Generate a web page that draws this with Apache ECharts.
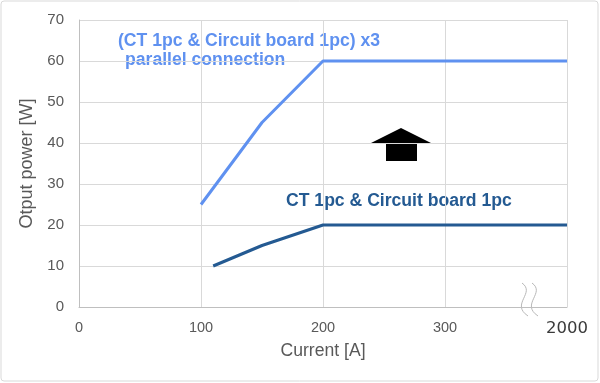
<!DOCTYPE html>
<html><head><meta charset="utf-8">
<script src="https://cdn.jsdelivr.net/npm/echarts@6/dist/echarts.min.js"></script>
<style>html,body{margin:0;padding:0;background:#fff}#c{width:600px;height:383px}</style>
</head><body><div id="c"></div>
<script>
const xTicks = [0, 100, 200, 300, 400];
const xTickLabels = ['0', '100', '200', '300', '2000'];
const parallelX = [100, 150, 200, 400];
const parallelY = [25, 45, 60, 60];
const singleX = [110, 150, 200, 400];
const singleY = [10, 15, 20, 20];
const parallelName = '(CT 1pc & Circuit board 1pc) x3';
const parallelName2 = 'parallel connection';
const singleName = 'CT 1pc & Circuit board 1pc';

const chart = echarts.init(document.getElementById('c'));
const font = 'Liberation Sans, Arial, sans-serif';
const lightBlue = '#5f91f0';
const darkBlue = '#245a92';
chart.setOption({
  animation: false,
  grid: {left: 79, right: 33, top: 20, bottom: 76},
  xAxis: {
    type: 'value', min: 0, max: 400, interval: 100,
    axisLine: {show: true, lineStyle: {color: '#bfbfbf'}},
    axisTick: {show: false},
    splitLine: {show: true, lineStyle: {color: '#d9d9d9'}},
    axisLabel: {color: '#595959', fontSize: 14.5, fontFamily: font, margin: 13,
      formatter: v => {
        const t = xTickLabels[xTicks.indexOf(v)];
        return v === 400 ? '{b|' + t + '}' : t;
      },
      rich: {b: {fontSize: 16.5, color: '#3a3a3a', fontFamily: 'DejaVu Sans, sans-serif'}}},
    name: 'Current [A]', nameLocation: 'middle', nameGap: 34,
    nameTextStyle: {color: '#595959', fontSize: 17.6, fontFamily: font}
  },
  yAxis: {
    type: 'value', min: 0, max: 70, interval: 10,
    axisLine: {show: true, lineStyle: {color: '#bfbfbf'}},
    axisTick: {show: false},
    splitLine: {show: true, lineStyle: {color: '#d9d9d9'}},
    axisLabel: {color: '#595959', fontSize: 15, fontFamily: font, margin: 15},
    name: 'Otput power [W]', nameLocation: 'middle', nameGap: 35,
    nameTextStyle: {color: '#595959', fontSize: 18, fontFamily: font}
  },
  series: [
    {type: 'line', data: parallelX.map((x, i) => [x, parallelY[i]]), symbol: 'none',
      lineStyle: {color: lightBlue, width: 3}},
    {type: 'line', data: singleX.map((x, i) => [x, singleY[i]]), symbol: 'none',
      lineStyle: {color: darkBlue, width: 3}}
  ],
  graphic: [
    {type: 'rect', shape: {x: 1, y: 1, width: 597, height: 380, r: 3},
      style: {fill: 'none', stroke: '#d9d9d9', lineWidth: 1}, silent: true},
    {type: 'text', x: 118, y: 41, style: {text: parallelName, fill: lightBlue,
      font: 'bold 17.6px ' + font, verticalAlign: 'middle'}},
    {type: 'text', x: 125, y: 60, style: {text: parallelName2, fill: lightBlue,
      font: 'bold 17.6px ' + font, verticalAlign: 'middle'}},
    {type: 'text', x: 286, y: 201, style: {text: singleName, fill: darkBlue,
      font: 'bold 17.6px ' + font, verticalAlign: 'middle'}},
    {type: 'polygon', shape: {points: [[401, 128], [431, 143], [417, 143], [417, 161],
      [386, 161], [386, 143], [371, 143]]}, style: {fill: '#000'}},
    {type: 'bezierCurve', shape: {x1: 522, y1: 283, cpx1: 536, cpy1: 293, cpx2: 510, cpy2: 304, x2: 528, y2: 316},
      style: {fill: 'none', stroke: '#b8b8b8', lineWidth: 1}},
    {type: 'bezierCurve', shape: {x1: 532, y1: 283, cpx1: 546, cpy1: 293, cpx2: 520, cpy2: 304, x2: 538, y2: 316},
      style: {fill: 'none', stroke: '#b8b8b8', lineWidth: 1}}
  ]
});
</script></body></html>
